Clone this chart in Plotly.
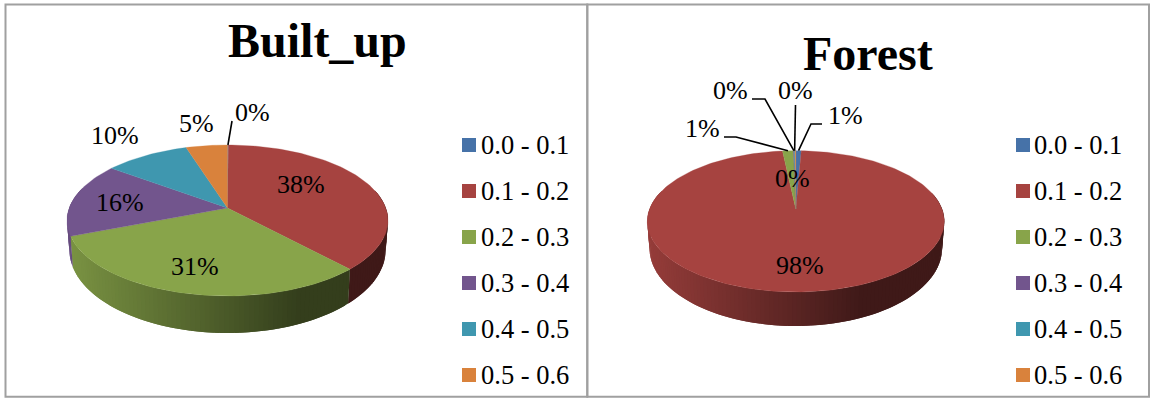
import math
import plotly.graph_objects as go

# Class intervals shared by both charts
classes = ["0.0 - 0.1", "0.1 - 0.2", "0.2 - 0.3", "0.3 - 0.4", "0.4 - 0.5", "0.5 - 0.6"]
colors = ["#4672A8", "#A64340", "#88A44A", "#72558D", "#3F97AF", "#D9823C"]

# Share of each class, per cent
built_up_values = [0.1, 38.0, 31.0, 16.0, 10.0, 4.9]
forest_values = [0.7, 97.6, 1.4, 0.1, 0.1, 0.1]

FONT = "Liberation Serif"
W, H = 1151, 398


def shade(hex_color, f):
    r, g, b = (int(hex_color[i:i + 2], 16) for i in (1, 3, 5))
    return f"rgb({r * f:.0f},{g * f:.0f},{b * f:.0f})"


class Disk:
    """Perspective view of a flat pie seen from above."""

    def __init__(self, cx, cy, rx, top, bottom, depth):
        self.cx, self.cy = cx, cy
        a, b = cy - top, bottom - cy
        self.k = (b - a) / (a + b)
        self.s = a * (1 + self.k)
        self.r = rx * math.sqrt(1 - self.k ** 2)
        self.rx, self.depth, self.bottom = rx, depth, bottom

    def top_point(self, theta):
        u, v = math.sin(theta), math.cos(theta)
        w = 1 + self.k * v
        return self.cx + self.r * u / w, self.cy - self.s * v / w

    def base_point(self, theta):
        x, y = self.top_point(theta)
        return (self.cx + (x - self.cx) * 0.985,
                y + self.depth + 0.1 * (y - self.bottom))


def wall_shade(t):
    # Light falls from the left; the wall darkens until about three quarters across
    return 0.9 - 0.52 * min(t / 0.72, 1.0)


def add_pie(fig, disk, values):
    total = sum(values)
    edges = [0.0]
    for v in values:
        edges.append(edges[-1] + v / total * 2 * math.pi)

    # Outer wall, drawn first so that the top face covers its upper edge.
    # Each band runs on under its neighbour, which leaves no seams in the gradient.
    step = math.radians(1.5)
    for i, color in enumerate(colors):
        a0, a1 = edges[i], edges[i + 1]
        n = max(1, int((a1 - a0) / step))
        for j in range(n):
            t0 = a0 + (a1 - a0) * j / n
            t1 = a0 + (a1 - a0) * (j + 1) / n
            if math.cos((t0 + t1) / 2) > 0.25:
                continue
            t2 = min(a1, t1 + step)
            angles = [t0, t1, t2]
            upper = [disk.top_point(t) for t in angles]
            lower = [disk.base_point(t) for t in reversed(angles)]
            outline = upper + lower + upper[:1]
            frac = ((upper[0][0] + upper[1][0]) / 2 - (disk.cx - disk.rx)) / (2 * disk.rx)
            c = shade(color, wall_shade(frac))
            fig.add_trace(go.Scatter(
                x=[p[0] for p in outline], y=[p[1] for p in outline],
                mode="lines", fill="toself", fillcolor=c,
                line=dict(color=c, width=0), hoverinfo="skip", showlegend=False))

    # Top face
    for i, color in enumerate(colors):
        a0, a1 = edges[i], edges[i + 1]
        n = max(2, int((a1 - a0) / step))
        rim = [disk.top_point(a0 + (a1 - a0) * j / n) for j in range(n + 1)]
        xs = [disk.cx] + [p[0] for p in rim] + [disk.cx]
        ys = [disk.cy] + [p[1] for p in rim] + [disk.cy]
        fig.add_trace(go.Scatter(
            x=xs, y=ys, mode="lines", fill="toself", fillcolor=color,
            line=dict(color=color, width=0.3), hoverinfo="skip", showlegend=False))
    return edges


def percent_labels(fig, values, places):
    for v, (x, y) in zip(values, places):
        fig.add_annotation(x=x, y=y, text=f"{round(v)}%", showarrow=False,
                           font=dict(family=FONT, size=26, color="#000"),
                           xanchor="center", yanchor="middle")


def leader(fig, edges, disk, index, path):
    mid = (edges[index] + edges[index + 1]) / 2
    x0, y0 = disk.top_point(mid)
    xs = [p[0] for p in path] + [x0]
    ys = [p[1] for p in path] + [y0]
    fig.add_trace(go.Scatter(x=xs, y=ys, mode="lines", line=dict(color="#000", width=1.6),
                             hoverinfo="skip", showlegend=False))


def legend(fig, x_box, x_text):
    rows = [145 + 46 * i for i in range(len(classes))]
    fig.add_trace(go.Scatter(
        x=[x_box] * len(classes), y=rows, mode="markers",
        marker=dict(symbol="square", size=14, color=colors, line=dict(width=0)),
        hoverinfo="skip", showlegend=False))
    for name, y in zip(classes, rows):
        fig.add_annotation(x=x_text, y=y, text=name, showarrow=False, xanchor="left",
                           yanchor="middle", font=dict(family=FONT, size=26.5, color="#000"))


fig = go.Figure()

built_disk = Disk(227.5, 208, 160.5, 145, 296, 37)
forest_disk = Disk(795.8, 209, 148.5, 150.7, 292, 34)

built_edges = add_pie(fig, built_disk, built_up_values)
forest_edges = add_pie(fig, forest_disk, forest_values)

leader(fig, built_edges, built_disk, 0, [(232, 121)])
leader(fig, forest_edges, forest_disk, 0, [(822, 124), (811, 124)])
leader(fig, forest_edges, forest_disk, 2, [(724, 137), (736, 137)])
leader(fig, forest_edges, forest_disk, 3, [(752, 99), (765, 99)])
leader(fig, forest_edges, forest_disk, 4, [(795.5, 105)])

percent_labels(fig, built_up_values,
               [(252, 112.5), (301, 184.5), (195, 266.5), (120, 202.5), (114.5, 135.5), (196.5, 123.5)])
percent_labels(fig, forest_values,
               [(845, 115.5), (800, 265.5), (702, 128.5), (730, 90.5), (795, 90.5), (792, 178.5)])

legend(fig, 469, 479)
legend(fig, 1023, 1032)

fig.add_annotation(x=317, y=40, text="<b>Built_up</b>", showarrow=False,
                   font=dict(family=FONT, size=48, color="#000"))
fig.add_annotation(x=868, y=53, text="<b>Forest</b>", showarrow=False,
                   font=dict(family=FONT, size=48, color="#000"))

# Table-style frame round the two charts
frame = dict(type="rect", xref="x", yref="y", line=dict(color="#a0a0a0", width=2))
fig.add_shape(x0=5.5, y0=4.5, x1=587.3, y1=396.7, **frame)
fig.add_shape(x0=587.3, y0=4.5, x1=1149, y1=396.7, **frame)

fig.update_xaxes(range=[0, W], visible=False, fixedrange=True)
fig.update_yaxes(range=[H, 0], visible=False, fixedrange=True)
fig.update_layout(width=W, height=H, margin=dict(l=0, r=0, t=0, b=0),
                  paper_bgcolor="white", plot_bgcolor="white", showlegend=False)

fig.write_html("out.html", config={"displayModeBar": False})
